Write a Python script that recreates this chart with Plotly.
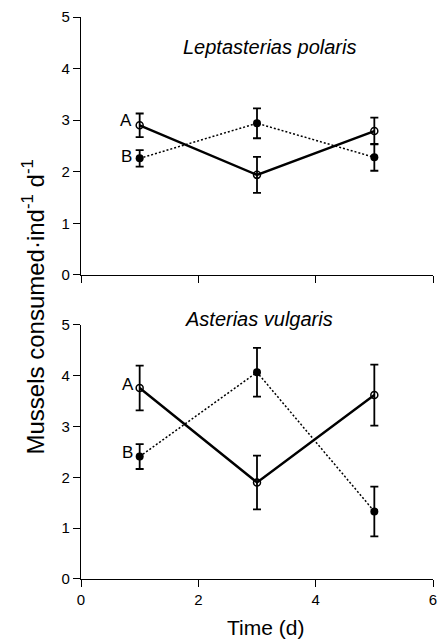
import plotly.graph_objects as go

time_d = [1, 3, 5]

# Leptasterias polaris
lep_A = [2.90, 1.94, 2.79]
lep_A_err = [0.23, 0.35, 0.26]
lep_B = [2.26, 2.94, 2.28]
lep_B_err = [0.16, 0.29, 0.26]

# Asterias vulgaris
ast_A = [3.76, 1.90, 3.62]
ast_A_err = [0.44, 0.53, 0.60]
ast_B = [2.41, 4.07, 1.33]
ast_B_err = [0.245, 0.48, 0.49]

x_ticks = [0, 2, 4, 6]
y_ticks = [0, 1, 2, 3, 4, 5]

FONT = "Liberation Sans, Arial, Helvetica, sans-serif"

fig = go.Figure()


def add_pair(A, Aerr, B, Berr, xa, ya):
    fig.add_trace(go.Scatter(
        x=time_d, y=B, xaxis=xa, yaxis=ya, mode="lines+markers",
        line=dict(color="black", width=1.5, dash="2px,2px"),
        marker=dict(symbol="circle", size=8, color="black"),
        error_y=dict(type="data", array=Berr, color="black", thickness=1.8, width=4),
        showlegend=False, cliponaxis=False))
    fig.add_trace(go.Scatter(
        x=time_d, y=A, xaxis=xa, yaxis=ya, mode="lines+markers",
        line=dict(color="black", width=2.4),
        marker=dict(symbol="circle-open", size=7, color="black", line=dict(width=1.5)),
        error_y=dict(type="data", array=Aerr, color="black", thickness=1.8, width=4),
        showlegend=False, cliponaxis=False))


add_pair(lep_A, lep_A_err, lep_B, lep_B_err, "x", "y")
add_pair(ast_A, ast_A_err, ast_B, ast_B_err, "x2", "y2")

axis_common = dict(
    showline=True, linecolor="black", linewidth=1.4, ticks="outside",
    ticklen=7, tickwidth=1.2, tickcolor="black", showgrid=False, zeroline=False,
    tickfont=dict(family=FONT, size=15, color="black"),
)

fig.update_layout(
    width=445, height=643,
    margin=dict(l=81, r=8, t=17, b=64),
    paper_bgcolor="white", plot_bgcolor="white",
    font=dict(family=FONT, color="black"),
    xaxis=dict(domain=[0, 1], anchor="y", range=[0, 6], tickvals=x_ticks,
               showticklabels=False, **axis_common),
    yaxis=dict(domain=[0.541, 1], anchor="x", range=[0, 5], tickvals=y_ticks, **axis_common),
    xaxis2=dict(domain=[0, 1], anchor="y2", range=[0, 6], tickvals=x_ticks, **axis_common),
    yaxis2=dict(domain=[0, 0.452], anchor="x2", range=[0, 5], tickvals=y_ticks, **axis_common),
)

annotations = [
    dict(text="<i>Leptasterias polaris</i>", x=0.536, y=0.947, xref="paper", yref="paper",
         showarrow=False, xanchor="center", yanchor="middle",
         font=dict(family=FONT, size=20)),
    dict(text="<i>Asterias vulgaris</i>", x=0.506, y=0.462, xref="paper", yref="paper",
         showarrow=False, xanchor="center", yanchor="middle",
         font=dict(family=FONT, size=20)),
    dict(text="A", x=0.77, y=3.0, xref="x", yref="y", showarrow=False,
         font=dict(family=FONT, size=17)),
    dict(text="B", x=0.77, y=2.3, xref="x", yref="y", showarrow=False,
         font=dict(family=FONT, size=17)),
    dict(text="A", x=0.80, y=3.82, xref="x2", yref="y2", showarrow=False,
         font=dict(family=FONT, size=17)),
    dict(text="B", x=0.80, y=2.49, xref="x2", yref="y2", showarrow=False,
         font=dict(family=FONT, size=17)),
    dict(text="Time (d)", x=0.525, y=-0.087, xref="paper", yref="paper",
         showarrow=False, xanchor="center", yanchor="middle",
         font=dict(family=FONT, size=21)),
    dict(text="Mussels consumed·ind<sup>-1</sup> d<sup>-1</sup>", x=-0.135, y=0.484,
         xref="paper", yref="paper", textangle=-90, showarrow=False,
         xanchor="center", yanchor="middle", font=dict(family=FONT, size=24)),
]
fig.update_layout(annotations=annotations)

fig.write_html("out.html")
